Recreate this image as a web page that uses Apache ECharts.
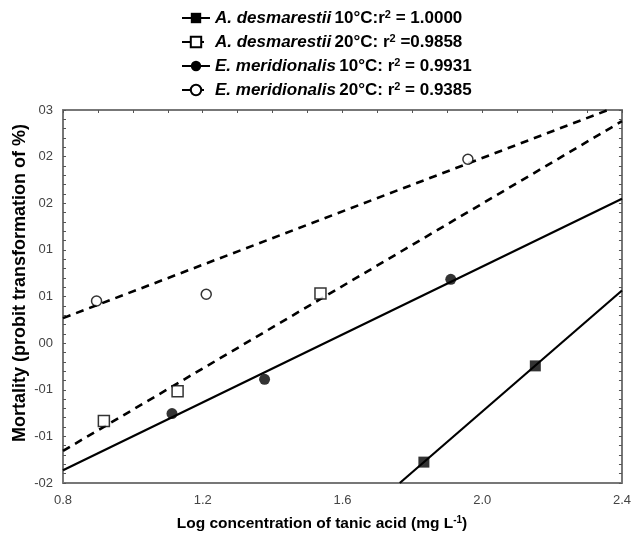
<!DOCTYPE html>
<html>
<head>
<meta charset="utf-8">
<script src="https://cdn.jsdelivr.net/npm/echarts@6/dist/echarts.min.js"></script>
<style>
html,body{margin:0;padding:0;background:#fff;}
#c{width:634px;height:536px;}
</style>
</head>
<body>
<div id="c"></div>
<script>
// ---- data ----
const seriesNames = ['AD10', 'AD20', 'EM10', 'EM20'];
const legendSpecies = ['A. desmarestii', 'A. desmarestii', 'E. meridionalis', 'E. meridionalis'];
const legendTemp = ['10°C:r', '20°C: r', '10°C: r', '20°C: r'];
const legendR2 = [' = 1.0000', ' =0.9858', ' = 0.9931', ' = 0.9385'];

const ad10X = [1.833, 2.152];
const ad10Y = [-1.72, -0.43];
const ad20X = [0.917, 1.128, 1.537];
const ad20Y = [-1.17, -0.77, 0.54];
const em10X = [1.112, 1.377, 1.910];
const em10Y = [-1.07, -0.61, 0.73];
const em20X = [0.896, 1.210, 1.959];
const em20Y = [0.44, 0.53, 2.34];

// regression line end points
const ad10FitX = [1.764, 2.4];
const ad10FitY = [-2.0, 0.58];
const ad20FitX = [0.8, 2.4];
const ad20FitY = [-1.57, 2.85];
const em10FitX = [0.8, 2.4];
const em10FitY = [-1.83, 1.81];
const em20FitX = [0.8, 2.36];
const em20FitY = [0.21, 3.0];

// axis ticks
const xTickValues = [0.8, 1.2, 1.6, 2.0, 2.4];
const xTickLabels = ['0.8', '1.2', '1.6', '2.0', '2.4'];
const yTickValues = [-2, -1.375, -0.75, -0.125, 0.5, 1.125, 1.75, 2.375, 3];
const yTickLabels = ['-02', '-01', '-01', '00', '01', '01', '02', '02', '03'];

// ---- build ----
const zip = (xs, ys) => xs.map((x, i) => [x, ys[i]]);
const yMinor = [];
for (let k = 0; k <= 40; k++) yMinor.push(-2 + k * 0.125);
const xMinor = [];
for (let k = 0; k <= 16; k++) xMinor.push(+(0.8 + k * 0.1).toFixed(2));

const styles = {
  AD10: {symbol: 'rect', filled: true, dashed: false, size: 11},
  AD20: {symbol: 'rect', filled: false, dashed: true, size: 11},
  EM10: {symbol: 'circle', filled: true, dashed: false, size: 11},
  EM20: {symbol: 'circle', filled: false, dashed: true, size: 10}
};
const pts = {AD10: zip(ad10X, ad10Y), AD20: zip(ad20X, ad20Y), EM10: zip(em10X, em10Y), EM20: zip(em20X, em20Y)};
const fits = {AD10: zip(ad10FitX, ad10FitY), AD20: zip(ad20FitX, ad20FitY), EM10: zip(em10FitX, em10FitY), EM20: zip(em20FitX, em20FitY)};

const series = [];
seriesNames.forEach((n, i) => {
  const s = styles[n];
  const item = {color: s.filled ? '#000' : '#fff', borderColor: '#000', borderWidth: s.filled ? 0 : 1.5};
  series.push({
    name: n, type: 'line', data: fits[n], showSymbol: false, symbol: s.symbol, symbolSize: 10,
    xAxisIndex: 0, yAxisIndex: 0,
    lineStyle: {color: '#000', width: s.dashed ? 2.6 : 2.2, type: s.dashed ? [8, 6] : 'solid'},
    itemStyle: item, silent: true, z: 2
  });
  series.push({
    name: n, type: 'scatter', data: pts[n], symbol: s.symbol, symbolSize: s.size,
    itemStyle: item, z: 3, silent: true
  });
});

const chart = echarts.init(document.getElementById('c'), null, {renderer: 'canvas'});
const F = '"Liberation Sans", Arial, sans-serif';
chart.setOption({
  animation: false,
  backgroundColor: '#fff',
  grid: {left: 63, right: 9, top: 110, bottom: 53},
  legend: {
    orient: 'vertical', left: 176, top: 4, itemGap: 5, itemWidth: 28, itemHeight: 13,
    data: seriesNames,
    selectedMode: false,
    formatter: function (name) {
      const i = seriesNames.indexOf(name);
      return '{i|' + legendSpecies[i] + '} {b|' + legendTemp[i] + '}{s|2}{b|' + legendR2[i] + '}';
    },
    textStyle: {
      fontFamily: F, color: '#000',
      rich: {
        i: {fontFamily: F, fontStyle: 'italic', fontWeight: 'bold', fontSize: 17, color: '#000', lineHeight: 18},
        b: {fontFamily: F, fontWeight: 'bold', fontSize: 17, color: '#000', lineHeight: 18},
        s: {fontFamily: F, fontWeight: 'bold', fontSize: 11, color: '#000', lineHeight: 18, verticalAlign: 'top', padding: [0, 0, 8, 0]}
      }
    }
  },
  xAxis: [{
    type: 'value', min: 0.8, max: 2.4, position: 'bottom',
    axisLine: {show: true, onZero: false, lineStyle: {color: '#777', width: 2}},
    axisTick: {show: false},
    splitLine: {show: false},
    axisLabel: {
      customValues: xTickValues,
      formatter: v => xTickLabels[xTickValues.findIndex(t => Math.abs(t - v) < 1e-6)],
      fontFamily: F, fontSize: 13, color: '#444', margin: 11
    }
  }, {
    type: 'value', min: 0.8, max: 2.4, position: 'top',
    axisLine: {show: true, onZero: false, lineStyle: {color: '#777', width: 2}},
    axisTick: {show: true, inside: true, length: 3, customValues: xMinor, lineStyle: {color: '#555', width: 1}},
    axisLabel: {show: false}, splitLine: {show: false}
  }],
  yAxis: [{
    type: 'value', min: -2, max: 3, position: 'left',
    axisLine: {show: true, onZero: false, lineStyle: {color: '#777', width: 2}},
    axisTick: {show: true, inside: true, length: 3, customValues: yMinor, lineStyle: {color: '#555', width: 1}},
    splitLine: {show: false},
    axisLabel: {
      customValues: yTickValues,
      formatter: v => yTickLabels[yTickValues.findIndex(t => Math.abs(t - v) < 1e-6)],
      fontFamily: F, fontSize: 13, color: '#444', margin: 10
    }
  }, {
    type: 'value', min: -2, max: 3, position: 'right',
    axisLine: {show: true, onZero: false, lineStyle: {color: '#777', width: 2}},
    axisTick: {show: true, inside: true, length: 3, customValues: yMinor, lineStyle: {color: '#555', width: 1}},
    axisLabel: {show: false}, splitLine: {show: false}
  }],
  graphic: [{
    type: 'text', x: 322, y: 524,
    style: {
      text: '{b|Log concentration of tanic acid (mg L}{s|-1}{b|)}',
      align: 'center', verticalAlign: 'middle',
      rich: {
        b: {fontFamily: F, fontWeight: 'bold', fontSize: 15.5, fill: '#000', lineHeight: 18},
        s: {fontFamily: F, fontWeight: 'bold', fontSize: 10, fill: '#000', lineHeight: 18, verticalAlign: 'top', padding: [0, 0, 8, 0]}
      }
    }
  }, {
    type: 'text', x: 20, y: 283, rotation: Math.PI / 2,
    style: {
      text: 'Mortality (probit transformation of %)',
      align: 'center', verticalAlign: 'middle',
      font: 'bold 18px ' + F, fill: '#000'
    }
  }],
  series: series
});
</script>
</body>
</html>
